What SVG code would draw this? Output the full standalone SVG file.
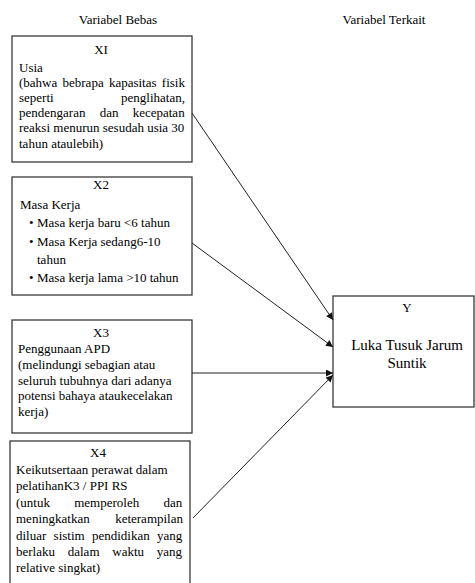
<svg xmlns="http://www.w3.org/2000/svg" width="475" height="583" viewBox="0 0 475 583">
<defs>
<style>
.box{fill:#fff;stroke:#3a3a3a;stroke-width:1.3}
.t{font-family:"Liberation Serif","Times New Roman",serif;font-size:13px;fill:#000}
.c{text-anchor:middle}
.e{text-anchor:end}
.big{font-size:15px}
.conn{stroke:#222;stroke-width:1;fill:none;marker-end:url(#ah)}
</style>
<marker id="ah" viewBox="0 0 10 10" refX="10" refY="5" markerWidth="8" markerHeight="7" markerUnits="userSpaceOnUse" orient="auto">
<path d="M0,0 L10,5 L0,10 z" fill="#111"/>
</marker>
</defs>
<rect width="475" height="583" fill="#fff"/>
<text class="t c" x="118" y="24">Variabel Bebas</text>
<text class="t c" x="384" y="24">Variabel Terkait</text>

<g id="x1">
<rect class="box" x="12" y="36" width="180" height="126"/>
<text class="t c" x="101" y="54">XI</text>
<text class="t" x="19" y="72">Usia</text>
<text class="t" x="19" y="87" word-spacing="2">(bahwa bebrapa kapasitas fisik</text>
<text class="t" y="102"><tspan x="19">seperti</tspan> <tspan class="e" x="185">penglihatan,</tspan></text>
<text class="t" x="19" y="117" word-spacing="11">pendengaran dan kecepatan</text>
<text class="t" x="19" y="132">reaksi menurun sesudah usia 30</text>
<text class="t" x="19" y="148">tahun ataulebih)</text>
</g>

<g id="x2">
<rect class="box" x="12" y="177" width="180" height="118"/>
<text class="t c" x="101" y="189">X2</text>
<text class="t" x="20" y="209">Masa Kerja</text>
<text class="t" x="29" y="227">•</text>
<text class="t" x="37" y="227">Masa kerja baru &lt;6 tahun</text>
<text class="t" x="29" y="246">•</text>
<text class="t" x="37" y="246">Masa Kerja sedang6-10</text>
<text class="t" x="37" y="264">tahun</text>
<text class="t" x="29" y="282">•</text>
<text class="t" x="37" y="282">Masa kerja lama &gt;10 tahun</text>
</g>

<g id="x3">
<rect class="box" x="12" y="320" width="180" height="113"/>
<text class="t c" x="101" y="337">X3</text>
<text class="t" x="18" y="353">Penggunaan APD</text>
<text class="t" x="18" y="369">(melindungi sebagian atau</text>
<text class="t" x="18" y="385">seluruh tubuhnya dari adanya</text>
<text class="t" x="18" y="400">potensi bahaya ataukecelakan</text>
<text class="t" x="18" y="416">kerja)</text>
</g>

<g id="x4">
<rect class="box" x="10" y="441" width="180" height="150"/>
<text class="t c" x="98" y="457">X4</text>
<text class="t" x="16" y="474">Keikutsertaan perawat dalam</text>
<text class="t" x="16" y="490">pelatihanK3 / PPI RS</text>
<text class="t" x="16" y="507" word-spacing="21">(untuk memperoleh dan</text>
<text class="t" y="523"><tspan x="16">meningkatkan</tspan> <tspan class="e" x="183">keterampilan</tspan></text>
<text class="t" x="16" y="540" word-spacing="4">diluar sistim pendidikan yang</text>
<text class="t" x="16" y="556" word-spacing="9.5">berlaku dalam waktu yang</text>
<text class="t" x="16" y="572">relative singkat)</text>
</g>

<g id="y">
<rect class="box" x="333" y="296" width="141" height="111"/>
<text class="t c" x="407" y="312">Y</text>
<text class="t c big" x="407" y="350">Luka Tusuk Jarum</text>
<text class="t c big" x="407" y="368">Suntik</text>
</g>

<g id="connectors">
<line class="conn" x1="192" y1="113" x2="333" y2="320"/>
<line class="conn" x1="192" y1="243" x2="333" y2="347"/>
<line class="conn" x1="192" y1="373" x2="333" y2="373"/>
<line class="conn" x1="193" y1="518" x2="333" y2="375"/>
</g>
</svg>
